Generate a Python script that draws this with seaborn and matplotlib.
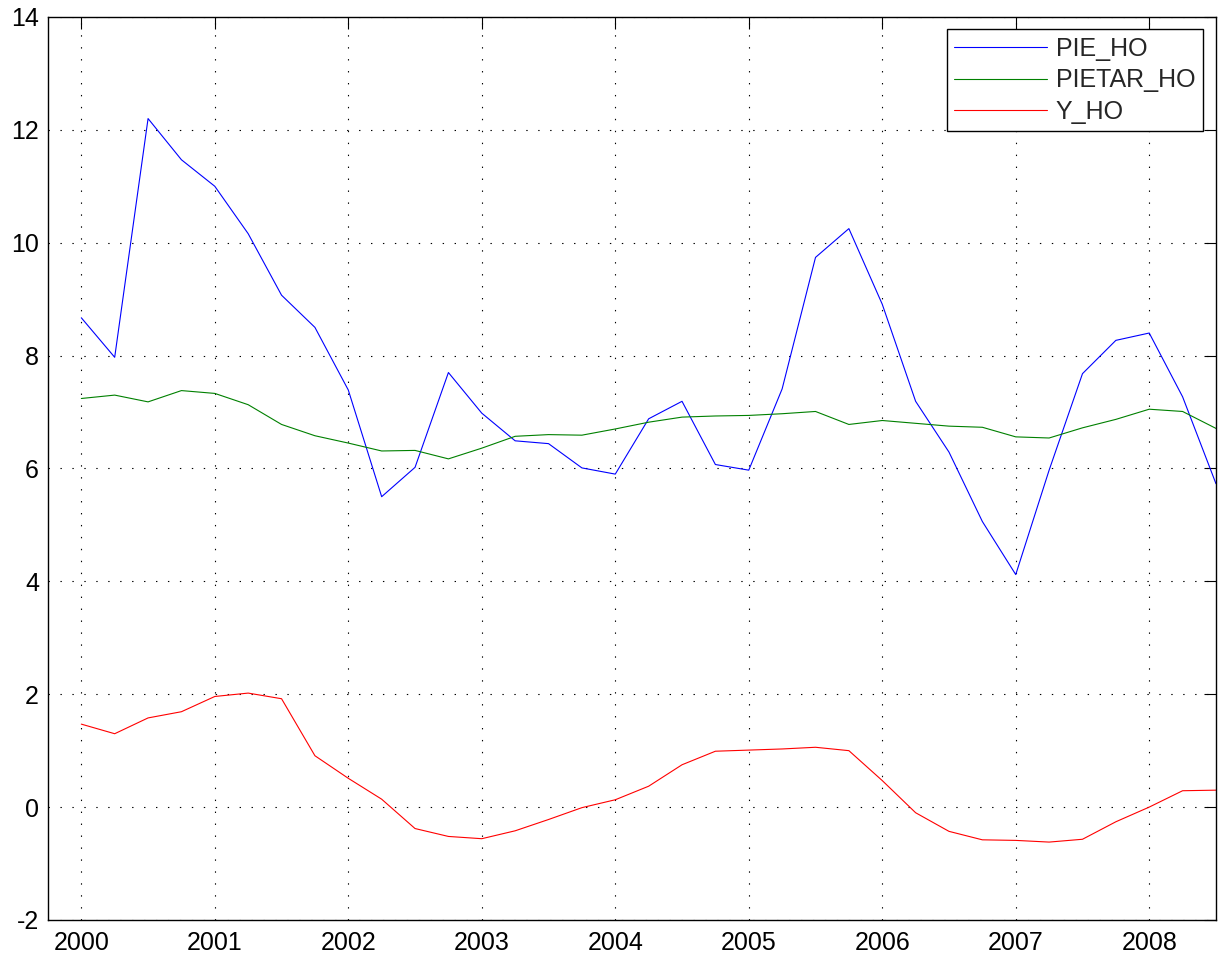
"""Quarterly PIE_HO / PIETAR_HO / Y_HO paths, MATLAB-style line chart."""

import matplotlib

matplotlib.use("Agg")
import matplotlib.pyplot as plt
import numpy as np
import pandas as pd
import seaborn as sns

# quarterly time index, 2000Q1 .. 2008Q3
QUARTERS = np.arange(2000.0, 2008.51, 0.25)

PIE_HO = [
    8.67, 7.97, 12.20, 11.47,
    11.00, 10.16, 9.07, 8.50,
    7.39, 5.50, 6.02, 7.70,
    6.98, 6.49, 6.44, 6.01,
    5.90, 6.88, 7.19, 6.07,
    5.97, 7.41, 9.74, 10.25,
    8.91, 7.19, 6.29, 5.06,
    4.12, 5.97, 7.68, 8.27,
    8.40, 7.27, 5.73,
]
PIETAR_HO = [
    7.24, 7.30, 7.18, 7.38,
    7.33, 7.13, 6.78, 6.58,
    6.45, 6.31, 6.32, 6.17,
    6.36, 6.57, 6.60, 6.59,
    6.70, 6.82, 6.91, 6.93,
    6.94, 6.97, 7.01, 6.78,
    6.85, 6.80, 6.75, 6.73,
    6.56, 6.54, 6.72, 6.87,
    7.05, 7.01, 6.71,
]
Y_HO = [
    1.47, 1.30, 1.58, 1.69,
    1.96, 2.02, 1.92, 0.91,
    0.51, 0.14, -0.38, -0.52,
    -0.56, -0.42, -0.22, -0.01,
    0.13, 0.37, 0.75, 0.99,
    1.01, 1.03, 1.06, 1.00,
    0.47, -0.10, -0.43, -0.58,
    -0.59, -0.62, -0.57, -0.26,
    0.00, 0.29, 0.30,
]

SERIES = ["PIE_HO", "PIETAR_HO", "Y_HO"]
COLORS = {"PIE_HO": "#0000ff", "PIETAR_HO": "#008000", "Y_HO": "#ff0000"}
X_TICKS = list(range(2000, 2009))
Y_TICKS = list(range(-2, 15, 2))

sns.set_theme(style="white")
plt.rcParams["font.family"] = ["Liberation Sans", "DejaVu Sans"]
plt.rcParams["axes.unicode_minus"] = False

frame = pd.DataFrame(
    {
        "date": np.tile(QUARTERS, 3),
        "value": PIE_HO + PIETAR_HO + Y_HO,
        "series": np.repeat(SERIES, len(QUARTERS)),
    }
)

fig = plt.figure(figsize=(12.2, 9.59), dpi=100)
ax = fig.add_axes([0.0393, 0.0407, 0.9574, 0.9416])

sns.lineplot(
    data=frame, x="date", y="value", hue="series", hue_order=SERIES,
    palette=COLORS, linewidth=0.8, ax=ax,
)

ax.set_xlim(1999.75, 2008.5)
ax.set_ylim(-2, 14)
ax.set_xticks(X_TICKS)
ax.set_yticks(Y_TICKS)
ax.set_xticklabels([str(t) for t in X_TICKS])
ax.set_yticklabels([str(t) for t in Y_TICKS])
ax.set_xlabel("")
ax.set_ylabel("")

ax.grid(True, color="black", linestyle=(0, (1.25, 9.5)), linewidth=0.8)
ax.tick_params(
    direction="in", top=True, right=True, length=8.8, width=0.8,
    labelsize=18, colors="black",
)
ax.tick_params(axis="x", pad=8)
ax.tick_params(axis="y", pad=6.5)
for spine in ax.spines.values():
    spine.set_visible(True)
    spine.set_color("black")
    spine.set_linewidth(1.0)

handles, labels = ax.get_legend_handles_labels()
leg = ax.legend(
    handles, labels, loc="upper right", bbox_to_anchor=(0.9886, 0.9864),
    borderaxespad=0, fontsize=18, frameon=True, fancybox=False,
    framealpha=1, edgecolor="black", handlelength=3.7, handletextpad=0.35,
    labelspacing=0.3, borderpad=0.3,
)
leg.get_frame().set_linewidth(1.0)

fig.savefig("out.png", dpi=100, facecolor="white")
